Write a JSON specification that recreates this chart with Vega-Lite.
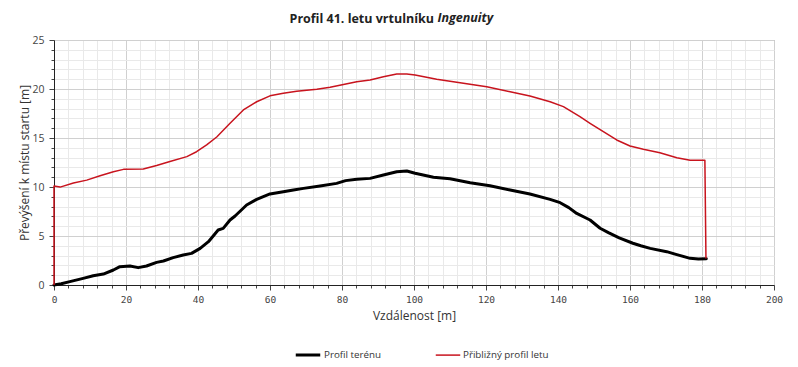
{
  "$schema": "https://vega.github.io/schema/vega-lite/v6.json",
  "width": 720,
  "height": 245,
  "autosize": {"type": "none"},
  "padding": {"left": 54, "top": 40, "right": 24, "bottom": 82},
  "background": "white",
  "title": {
    "text": "Profil 41. letu vrtulníku",
    "anchor": "end",
    "frame": "group",
    "dx": -340,
    "offset": -20,
    "baseline": "middle",
    "font": "Open Sans",
    "fontSize": 12.5,
    "fontWeight": "bold",
    "color": "#222"
  },
  "config": {
    "view": {"stroke": "#a0a0a0", "strokeWidth": 1},
    "axis": {
      "labelFont": "Open Sans",
      "titleFont": "Open Sans",
      "titleFontWeight": "normal",
      "titleColor": "#333",
      "labelColor": "#444",
      "domainColor": "#222",
      "tickColor": "#444",
      "labelOverlap": false
    }
  },
  "data": {
    "values": [
      {"i": 1, "series": "Profil terénu", "x": 0, "y": 0},
      {"i": 2, "series": "Profil terénu", "x": 2, "y": 0.12},
      {"i": 3, "series": "Profil terénu", "x": 4.4, "y": 0.34},
      {"i": 4, "series": "Profil terénu", "x": 8.1, "y": 0.68},
      {"i": 5, "series": "Profil terénu", "x": 10.9, "y": 0.95},
      {"i": 6, "series": "Profil terénu", "x": 13.7, "y": 1.12},
      {"i": 7, "series": "Profil terénu", "x": 16.5, "y": 1.53},
      {"i": 8, "series": "Profil terénu", "x": 18.3, "y": 1.87},
      {"i": 9, "series": "Profil terénu", "x": 21.1, "y": 1.94},
      {"i": 10, "series": "Profil terénu", "x": 23.4, "y": 1.77},
      {"i": 11, "series": "Profil terénu", "x": 25.7, "y": 1.94},
      {"i": 12, "series": "Profil terénu", "x": 28.5, "y": 2.31},
      {"i": 13, "series": "Profil terénu", "x": 30.4, "y": 2.45},
      {"i": 14, "series": "Profil terénu", "x": 33.1, "y": 2.79},
      {"i": 15, "series": "Profil terénu", "x": 35.9, "y": 3.06},
      {"i": 16, "series": "Profil terénu", "x": 38.2, "y": 3.23},
      {"i": 17, "series": "Profil terénu", "x": 40.6, "y": 3.74},
      {"i": 18, "series": "Profil terénu", "x": 42.9, "y": 4.42},
      {"i": 19, "series": "Profil terénu", "x": 45.6, "y": 5.61},
      {"i": 20, "series": "Profil terénu", "x": 47, "y": 5.78},
      {"i": 21, "series": "Profil terénu", "x": 48.9, "y": 6.63},
      {"i": 22, "series": "Profil terénu", "x": 50.3, "y": 7.04},
      {"i": 23, "series": "Profil terénu", "x": 53.5, "y": 8.16},
      {"i": 24, "series": "Profil terénu", "x": 56.3, "y": 8.74},
      {"i": 25, "series": "Profil terénu", "x": 60, "y": 9.29},
      {"i": 26, "series": "Profil terénu", "x": 63.7, "y": 9.52},
      {"i": 27, "series": "Profil terénu", "x": 66.5, "y": 9.7},
      {"i": 28, "series": "Profil terénu", "x": 69.3, "y": 9.86},
      {"i": 29, "series": "Profil terénu", "x": 73.9, "y": 10.1},
      {"i": 30, "series": "Profil terénu", "x": 78.5, "y": 10.37},
      {"i": 31, "series": "Profil terénu", "x": 81, "y": 10.65},
      {"i": 32, "series": "Profil terénu", "x": 84.1, "y": 10.8},
      {"i": 33, "series": "Profil terénu", "x": 87.8, "y": 10.88},
      {"i": 34, "series": "Profil terénu", "x": 91.5, "y": 11.22},
      {"i": 35, "series": "Profil terénu", "x": 95.2, "y": 11.56},
      {"i": 36, "series": "Profil terénu", "x": 98, "y": 11.63},
      {"i": 37, "series": "Profil terénu", "x": 100.3, "y": 11.4},
      {"i": 38, "series": "Profil terénu", "x": 105.4, "y": 10.99},
      {"i": 39, "series": "Profil terénu", "x": 110, "y": 10.85},
      {"i": 40, "series": "Profil terénu", "x": 115.6, "y": 10.44},
      {"i": 41, "series": "Profil terénu", "x": 121.1, "y": 10.13},
      {"i": 42, "series": "Profil terénu", "x": 126.7, "y": 9.69},
      {"i": 43, "series": "Profil terénu", "x": 132.2, "y": 9.29},
      {"i": 44, "series": "Profil terénu", "x": 137.8, "y": 8.74},
      {"i": 45, "series": "Profil terénu", "x": 140.6, "y": 8.4},
      {"i": 46, "series": "Profil terénu", "x": 143, "y": 7.9},
      {"i": 47, "series": "Profil terénu", "x": 145.2, "y": 7.3},
      {"i": 48, "series": "Profil terénu", "x": 148.9, "y": 6.63},
      {"i": 49, "series": "Profil terénu", "x": 151.7, "y": 5.79},
      {"i": 50, "series": "Profil terénu", "x": 154, "y": 5.34},
      {"i": 51, "series": "Profil terénu", "x": 157, "y": 4.8},
      {"i": 52, "series": "Profil terénu", "x": 160.8, "y": 4.26},
      {"i": 53, "series": "Profil terénu", "x": 163, "y": 4.0},
      {"i": 54, "series": "Profil terénu", "x": 165.6, "y": 3.74},
      {"i": 55, "series": "Profil terénu", "x": 170.2, "y": 3.4},
      {"i": 56, "series": "Profil terénu", "x": 173, "y": 3.1},
      {"i": 57, "series": "Profil terénu", "x": 176.7, "y": 2.72},
      {"i": 58, "series": "Profil terénu", "x": 179, "y": 2.65},
      {"i": 59, "series": "Profil terénu", "x": 181.2, "y": 2.68},
      {"i": 101, "series": "Přibližný profil letu", "x": 0, "y": 0},
      {"i": 102, "series": "Přibližný profil letu", "x": 0, "y": 10.1},
      {"i": 103, "series": "Přibližný profil letu", "x": 1.7, "y": 9.99},
      {"i": 104, "series": "Přibližný profil letu", "x": 5.4, "y": 10.4},
      {"i": 105, "series": "Přibližný profil letu", "x": 9.1, "y": 10.7},
      {"i": 106, "series": "Přibližný profil letu", "x": 12.8, "y": 11.15},
      {"i": 107, "series": "Přibližný profil letu", "x": 16.5, "y": 11.56},
      {"i": 108, "series": "Přibližný profil letu", "x": 19.3, "y": 11.8},
      {"i": 109, "series": "Přibližný profil letu", "x": 24.8, "y": 11.84},
      {"i": 110, "series": "Přibližný profil letu", "x": 28.5, "y": 12.2},
      {"i": 111, "series": "Přibližný profil letu", "x": 32.2, "y": 12.6},
      {"i": 112, "series": "Přibližný profil letu", "x": 36.9, "y": 13.1},
      {"i": 113, "series": "Přibližný profil letu", "x": 39.6, "y": 13.6},
      {"i": 114, "series": "Přibližný profil letu", "x": 42.4, "y": 14.3},
      {"i": 115, "series": "Přibližný profil letu", "x": 45.2, "y": 15.1},
      {"i": 116, "series": "Přibližný profil letu", "x": 48.9, "y": 16.5},
      {"i": 117, "series": "Přibližný profil letu", "x": 52.6, "y": 17.86},
      {"i": 118, "series": "Přibližný profil letu", "x": 56.3, "y": 18.7},
      {"i": 119, "series": "Přibližný profil letu", "x": 60, "y": 19.3},
      {"i": 120, "series": "Přibližný profil letu", "x": 63.7, "y": 19.56},
      {"i": 121, "series": "Přibližný profil letu", "x": 67.4, "y": 19.76},
      {"i": 122, "series": "Přibližný profil letu", "x": 73, "y": 19.97},
      {"i": 123, "series": "Přibližný profil letu", "x": 76.7, "y": 20.17},
      {"i": 124, "series": "Přibližný profil letu", "x": 80.4, "y": 20.47},
      {"i": 125, "series": "Přibližný profil letu", "x": 84.1, "y": 20.75},
      {"i": 126, "series": "Přibližný profil letu", "x": 87.8, "y": 20.92},
      {"i": 127, "series": "Přibližný profil letu", "x": 91.5, "y": 21.26},
      {"i": 128, "series": "Přibližný profil letu", "x": 95.2, "y": 21.53},
      {"i": 129, "series": "Přibližný profil letu", "x": 98, "y": 21.53},
      {"i": 130, "series": "Přibližný profil letu", "x": 100.3, "y": 21.43},
      {"i": 131, "series": "Přibližný profil letu", "x": 106.3, "y": 20.99},
      {"i": 132, "series": "Přibližný profil letu", "x": 112.8, "y": 20.64},
      {"i": 133, "series": "Přibližný profil letu", "x": 120.2, "y": 20.23},
      {"i": 134, "series": "Přibližný profil letu", "x": 126.7, "y": 19.72},
      {"i": 135, "series": "Přibližný profil letu", "x": 132.2, "y": 19.29},
      {"i": 136, "series": "Přibližný profil letu", "x": 137.8, "y": 18.7},
      {"i": 137, "series": "Přibližný profil letu", "x": 141.5, "y": 18.2},
      {"i": 138, "series": "Přibližný profil letu", "x": 146.1, "y": 17.17},
      {"i": 139, "series": "Přibližný profil letu", "x": 148.9, "y": 16.5},
      {"i": 140, "series": "Přibližný profil letu", "x": 152.6, "y": 15.64},
      {"i": 141, "series": "Přibližný profil letu", "x": 156.3, "y": 14.8},
      {"i": 142, "series": "Přibližný profil letu", "x": 160, "y": 14.18},
      {"i": 143, "series": "Přibližný profil letu", "x": 163.7, "y": 13.85},
      {"i": 144, "series": "Přibližný profil letu", "x": 168.3, "y": 13.5},
      {"i": 145, "series": "Přibližný profil letu", "x": 173, "y": 12.99},
      {"i": 146, "series": "Přibližný profil letu", "x": 176.7, "y": 12.72},
      {"i": 147, "series": "Přibližný profil letu", "x": 180.8, "y": 12.72},
      {"i": 148, "series": "Přibližný profil letu", "x": 181.1, "y": 2.7}
    ]
  },
  "encoding": {
    "y": {
      "field": "y", "type": "quantitative",
      "scale": {"domain": [0, 25], "nice": false},
      "axis": {
        "title": "Převýšení k místu startu [m]",
        "titleFontSize": 12,
        "titleAngle": -90,
        "titleX": -30, "titleY": 122.5, "titleAlign": "center", "titleBaseline": "middle",
        "values": [0,1,2,3,4,5,6,7,8,9,10,11,12,13,14,15,16,17,18,19,20,21,22,23,24,25],
        "labelExpr": "datum.value % 5 === 0 ? datum.label : ''",
        "labelOverlap": false,
        "labelFontSize": 10.5,
        "labelPadding": 5,
        "labelFlush": false,
        "tickSize": {"condition": {"test": "datum.value % 5 === 0", "value": 5}, "value": 3},
        "grid": true,
        "gridColor": {"condition": {"test": "datum.value % 5 === 0", "value": "#d0d0d0"}, "value": "#e9e9e9"},
        "gridWidth": 1
      }
    },
    "order": {"field": "i", "type": "quantitative"},
    "color": {
      "field": "series", "type": "nominal",
      "scale": {"domain": ["Profil terénu", "Přibližný profil letu"], "range": ["#000000", "#c8141e"]},
      "legend": {
        "title": null,
        "orient": "none",
        "direction": "horizontal",
        "legendX": 240,
        "legendY": 301,
        "symbolType": "stroke",
        "symbolSize": 600,
        "labelFont": "Open Sans",
        "labelFontSize": 9.8,
        "labelColor": "#333",
        "labelOffset": 2,
        "columnPadding": 50
      }
    },
    "strokeWidth": {
      "field": "series", "type": "ordinal",
      "scale": {"domain": ["Profil terénu", "Přibližný profil letu"], "range": [3, 1.5]},
      "legend": {
        "title": null,
        "orient": "none",
        "direction": "horizontal",
        "legendX": 240,
        "legendY": 301,
        "symbolType": "stroke",
        "symbolSize": 600,
        "labelFont": "Open Sans",
        "labelFontSize": 9.8,
        "labelColor": "#333",
        "labelOffset": 2,
        "columnPadding": 50
      }
    }
  },
  "layer": [
    {
      "transform": [{"filter": "datum.series === 'Profil terénu'"}],
      "mark": {"type": "line", "strokeJoin": "round", "strokeCap": "round"},
      "encoding": {
        "x": {
          "field": "x", "type": "quantitative",
          "scale": {"domain": [0, 200], "nice": false, "zero": false},
          "axis": {
            "orient": "bottom",
            "title": "Vzdálenost [m]",
            "titleFontSize": 12,
            "titleX": 360, "titleY": 30, "titleAlign": "center", "titleBaseline": "middle", "titleAnchor": null,
            "values": [0,4,8,12,16,20,24,28,32,36,40,44,48,52,56,60,64,68,72,76,80,84,88,92,96,100,104,108,112,116,120,124,128,132,136,140,144,148,152,156,160,164,168,172,176,180,184,188,192,196,200],
            "labelExpr": "datum.value % 20 === 0 ? datum.label : ''",
            "labelOverlap": false,
            "labelFont": "DejaVu Sans Mono",
            "labelFontSize": 9.5,
            "labelPadding": 4,
            "labelFlush": false,
            "format": "d",
            "tickSize": {"condition": {"test": "datum.value % 20 === 0", "value": 5}, "value": 3},
            "grid": true,
            "gridColor": {"condition": {"test": "datum.value % 20 === 0", "value": "#d0d0d0"}, "value": "#e9e9e9"},
            "gridWidth": 1,
            "domainColor": "#222"
          }
        }
      }
    },
    {
      "transform": [{"filter": "datum.series === 'Přibližný profil letu'"}],
      "mark": {"type": "line", "strokeJoin": "round"},
      "encoding": {
        "x": {
          "field": "x", "type": "quantitative",
          "scale": {"domain": [0, 200], "nice": false, "zero": false},
          "axis": {
            "orient": "top",
            "title": "Ingenuity",
            "titleFont": "Open Sans",
            "titleFontSize": 12.5,
            "titleFontWeight": "bold",
            "titleFontStyle": "italic",
            "titleColor": "#222",
            "titleX": 383, "titleY": -23, "titleAlign": "left", "titleBaseline": "middle",
            "labels": false, "ticks": false, "domain": false, "grid": false
          }
        }
      }
    }
  ]
}
